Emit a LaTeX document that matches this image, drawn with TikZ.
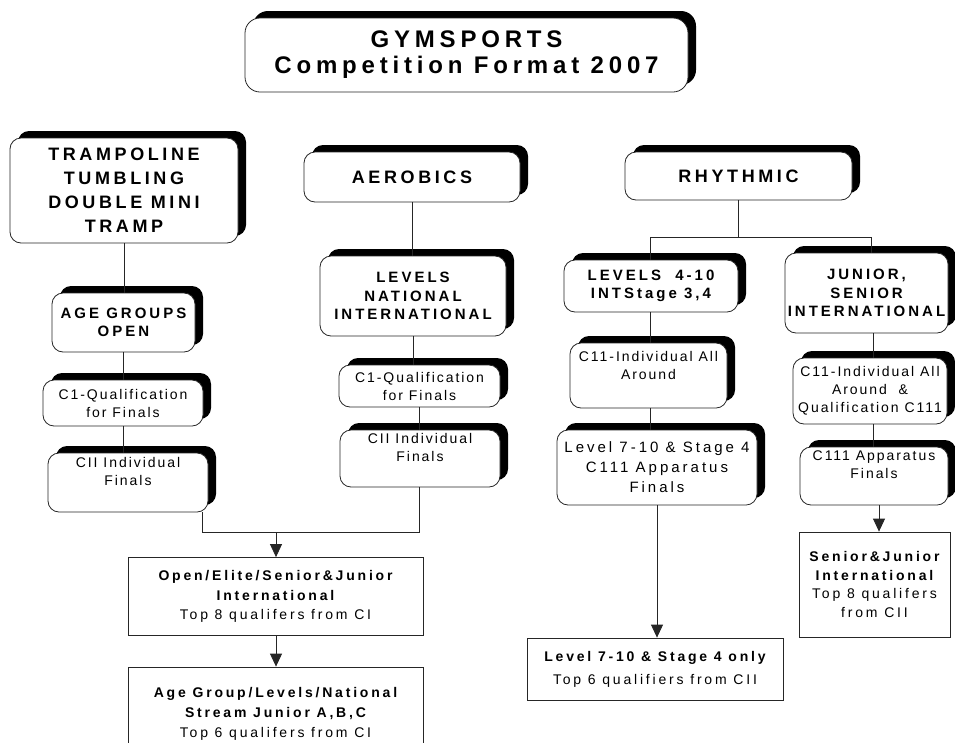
\documentclass[tikz,border=0pt]{standalone}
\usepackage{fontspec}
\setmainfont{Liberation Sans}
\newfontfamily\headfam[LetterSpace=20]{Liberation Sans}
\newfontfamily\titlefam[LetterSpace=20]{Liberation Sans}
\newfontfamily\bodyfam[LetterSpace=14]{Liberation Sans}
\usetikzlibrary{shadows,arrows.meta}

\tikzset{
  rbox/.style={draw=black!85, line width=0.8pt, fill=white, rounded corners=11pt,
    inner sep=0pt, align=center,
    general shadow={fill=black, shadow xshift=8pt, shadow yshift=7pt}},
  sbox/.style={draw=black!85, line width=0.8pt, fill=white, inner sep=0pt, align=center},
  titlebox/.style={rbox, rounded corners=15pt,
    font=\titlefam\bfseries\fontsize{24pt}{26pt}\selectfont},
  bighead/.style={font=\headfam\bfseries\fontsize{18pt}{24pt}\selectfont},
  subhead/.style={font=\headfam\bfseries\fontsize{15pt}{18.5pt}\selectfont},
  bodytext/.style={font=\bodyfam\fontsize{14pt}{18pt}\selectfont},
  link/.style={draw=black!85, line width=0.8pt},
  arr/.style={link, -{Triangle[length=13pt,width=12pt]}},
}

\begin{document}
\begin{tikzpicture}[x=1pt,y=-1pt]
\useasboundingbox (0,0) rectangle (955,742);

% title
\node[titlebox, minimum width=443pt, minimum height=74pt] (title) at (466.5,55)
  {GYMSPORTS\\Competition Format 2007};

% trampoline / tumbling / double mini tramp column
\node[rbox, bighead, minimum width=228pt, minimum height=105pt] (tramp) at (124,190.5)
  {TRAMPOLINE\\TUMBLING\\DOUBLE MINI\\TRAMP};
\node[rbox, subhead, minimum width=143pt, minimum height=59pt] (agegrp) at (123.5,322.5)
  {AGE GROUPS\\OPEN};
\node[rbox, bodytext, minimum width=160pt, minimum height=46pt] (qualL) at (123,403)
  {C1-Qualification\\for Finals};
\node[rbox, bodytext, minimum width=160pt, minimum height=59pt] (finL) at (128,482.5)
  {CII Individual\\Finals\\[4pt]};

% aerobics column
\node[rbox, bighead, minimum width=216pt, minimum height=50pt] (aero) at (412,177)
  {AEROBICS};
\node[rbox, subhead, minimum width=186pt, minimum height=80pt] (levnat) at (413,296)
  {LEVELS\\NATIONAL\\INTERNATIONAL};
\node[rbox, bodytext, minimum width=161pt, minimum height=42pt] (qualA) at (419.5,386)
  {C1-Qualification\\for Finals};
\node[rbox, bodytext, minimum width=160pt, minimum height=57pt] (finA) at (420,458.5)
  {CII Individual\\Finals\\[4pt]};

% rhythmic columns
\node[rbox, bighead, minimum width=227pt, minimum height=48pt] (rhy) at (738.5,176)
  {RHYTHMIC};
\node[rbox, subhead, minimum width=174pt, minimum height=52pt] (lev410) at (651,286)
  {LEVELS~~4-10\\INTStage 3,4};
\node[rbox, bodytext, minimum width=157pt, minimum height=65pt] (aaL) at (648.5,375.5)
  {C11-Individual All\\Around\\[3pt]};
\node[rbox, font=\headfam\fontsize{15pt}{20pt}\selectfont,
  minimum width=200pt, minimum height=75pt] (appL) at (657,467.5)
  {Level 7-10 \& Stage 4\\C111 Apparatus\\Finals};
\node[rbox, subhead, minimum width=163pt, minimum height=80pt] (jun) at (866.5,293)
  {JUNIOR,\\SENIOR\\INTERNATIONAL};
\node[rbox, bodytext, minimum width=154pt, minimum height=66pt] (aaR) at (870,391)
  {C11-Individual All\\Around~~\&\\Qualification C111};
\node[rbox, bodytext, minimum width=148pt, minimum height=58pt] (appR) at (874,476)
  {C111 Apparatus\\Finals\\[4pt]};

% final stages
\node[sbox, font=\headfam\fontsize{14pt}{19.5pt}\selectfont,
  minimum width=295pt, minimum height=78pt] (openfin) at (275.5,596.5)
  {{\bfseries Open/Elite/Senior\&Junior}\\{\bfseries International}\\Top 8 qualifers from CI};
\node[sbox, font=\headfam\fontsize{14pt}{20pt}\selectfont,
  minimum width=295pt, minimum height=93pt] (agefin) at (275.5,713.5)
  {{\bfseries Age Group/Levels/National}\\{\bfseries Stream Junior A,B,C}\\Top 6 qualifers from CI};
\node[sbox, font=\headfam\fontsize{14pt}{23pt}\selectfont,
  minimum width=256pt, minimum height=62pt] (levfin) at (655,669)
  {{\bfseries Level 7-10 \& Stage 4 only}\\Top 6 qualifiers from CII};
\node[sbox, font=\headfam\fontsize{14pt}{18.5pt}\selectfont,
  minimum width=151pt, minimum height=105pt] (intfin) at (874.5,584.5)
  {{\bfseries Senior\&Junior}\\{\bfseries International}\\Top 8 qualifers\\from CII};

% left columns: chains and merge
\draw[link] (tramp.south) -- (tramp.south |- agegrp.north);
\draw[link] (agegrp.south) -- (agegrp.south |- qualL.north);
\draw[link] (qualL.south) -- (qualL.south |- finL.north);
\draw[link] (aero.south) -- (aero.south |- levnat.north);
\draw[link] (levnat.south) -- (levnat.south |- qualA.north);
\draw[link] (qualA.south) -- (qualA.south |- finA.north);
\coordinate (mergeL) at (202,532);
\coordinate (mergeR) at (419,532);
\coordinate (mergeM) at (276,532);
\draw[link] (finL.south -| mergeL) -- (mergeL) -- (mergeR) -- (mergeR |- finA.south);
\draw[arr] (mergeM) -- (mergeM |- openfin.north);
\draw[arr] (openfin.south -| mergeM) -- (mergeM |- agefin.north);

% rhythmic split
\coordinate (rsplit) at (738,237);
\coordinate (rl) at (650,237);
\coordinate (rr) at (871,237);
\draw[link] (rhy.south -| rsplit) -- (rsplit);
\draw[link] (rl |- lev410.north) -- (rl) -- (rr) -- (rr |- jun.north);
\draw[link] (lev410.south -| rl) -- (rl |- aaL.north);
\draw[link] (aaL.south -| rl) -- (rl |- appL.north);
\draw[arr] (appL.south) -- (appL.south |- levfin.north);
\coordinate (rr2) at (873,0);
\draw[link] (jun.south -| rr2) -- (rr2 |- aaR.north);
\draw[link] (aaR.south -| rr2) -- (rr2 |- appR.north);
\coordinate (rr3) at (879,0);
\draw[arr] (appR.south -| rr3) -- (rr3 |- intfin.north);
\end{tikzpicture}
\end{document}
